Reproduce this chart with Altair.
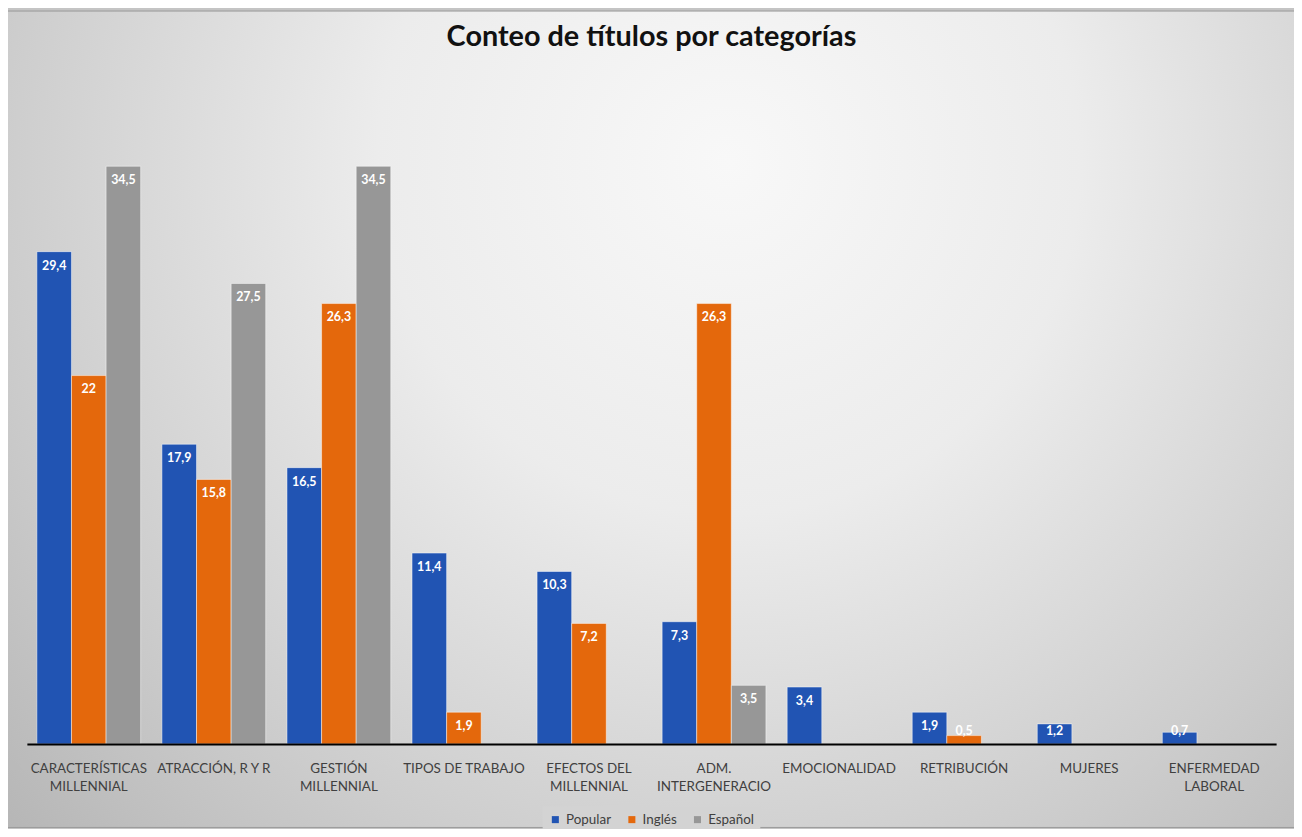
import altair as alt
import pandas as pd

categories = ["CARACTERÍSTICAS|MILLENNIAL", "ATRACCIÓN, R Y R", "GESTIÓN|MILLENNIAL",
              "TIPOS DE TRABAJO", "EFECTOS DEL|MILLENNIAL", "ADM.|INTERGENERACIO",
              "EMOCIONALIDAD", "RETRIBUCIÓN", "MUJERES", "ENFERMEDAD|LABORAL"]
series = ["Popular", "Inglés", "Español"]
popular = [29.4, 17.9, 16.5, 11.4, 10.3, 7.3, 3.4, 1.9, 1.2, 0.7]
ingles = [22, 15.8, 26.3, 1.9, 7.2, 26.3, None, 0.5, None, None]
espanol = [34.5, 27.5, 34.5, None, None, 3.5, None, None, None, None]
colors = ["#2154b3", "#e4680c", "#979797"]
title_text = "Conteo de títulos por categorías"

rows = []
for name, vals in zip(series, [popular, ingles, espanol]):
    for c, v in zip(categories, vals):
        if v is not None:
            rows.append({"cat": c, "serie": name, "valor": v})
df = pd.DataFrame(rows)

W, H = 1257, 674
PL, PT, PR, PB = 19, 64, 18, 83

bg = alt.Chart(alt.Data(values=[{"a": 1}])).mark_rect(
    fill=alt.RadialGradient(
        gradient="radial",
        stops=[alt.GradientStop(color="#f8f8f8", offset=0),
               alt.GradientStop(color="#ececec", offset=0.35),
               alt.GradientStop(color="#cdcdcd", offset=0.72),
               alt.GradientStop(color="#b4b4b4", offset=1)],
        x1=0.56, y1=0.3, r1=0, x2=0.56, y2=0.3, r2=0.78),
    stroke="#9a9a9a", strokeWidth=1
).encode(
    x=alt.value(-PL - 1), x2=alt.value(W + PR + 1),
    y=alt.value(-PT + 0.5), y2=alt.value(H + PB + 1)
)

title = alt.Chart(alt.Data(values=[{"t": title_text}])).mark_text(
    font="Lato", fontSize=29, fontWeight="bold", color="#111111",
    baseline="middle", align="center"
).encode(x=alt.value(W / 2), y=alt.value(-37), text="t:N")

xenc = alt.X("cat:N", sort=categories,
             scale=alt.Scale(paddingInner=0.17, paddingOuter=0.08),
             axis=alt.Axis(title=None, labelAngle=0, ticks=False, domainColor="black",
                           domainWidth=2, labelExpr="split(datum.label, '|')",
                           labelPadding=18, labelFontSize=13.5, labelColor="#404040",
                           labelFont="Lato", labelLineHeight=18, labelOverlap=False,
                           labelLimit=0, zindex=2))
yscale = alt.Scale(domain=[0, 40])
off = alt.XOffset("serie:N", sort=series, scale=alt.Scale(paddingInner=0, paddingOuter=0))

bars = alt.Chart(df).mark_bar(stroke="white", strokeWidth=0.8, strokeOpacity=0.6).encode(
    x=xenc,
    xOffset=off,
    y=alt.Y("valor:Q", scale=yscale, axis=None),
    color=alt.Color("serie:N", sort=series,
                    scale=alt.Scale(domain=series, range=colors),
                    legend=alt.Legend(title=None, orient="none", direction="horizontal",
                                      legendX=519, legendY=737, fillColor="#d3d3d3",
                                      padding=6, symbolType="square", symbolSize=50,
                                      labelFontSize=13.5, labelFont="Lato",
                                      labelColor="#404040", columnPadding=14,
                                      symbolStrokeWidth=0, zindex=2))
)

labels = alt.Chart(df).transform_calculate(
    label="replace(format(datum.valor, '.3~g'), '.', ',')",
    labelY="max(datum.valor - 0.83, 0.77)"
).mark_text(color="white", font="Lato", fontWeight="bold", fontSize=12.5,
            baseline="middle").encode(
    x=xenc,
    xOffset=off,
    y=alt.Y("labelY:Q", scale=yscale, axis=None),
    text="label:N"
)

chart = alt.layer(bg, title, bars, labels).properties(
    width=W, height=H,
    autosize=alt.AutoSizeParams(type="none"),
    padding={"left": PL, "top": PT, "right": PR, "bottom": PB}
).configure_view(stroke=None).configure(background="#c4c4c4")

chart.save("out.html", embed_options={"renderer": "svg", "actions": False})
